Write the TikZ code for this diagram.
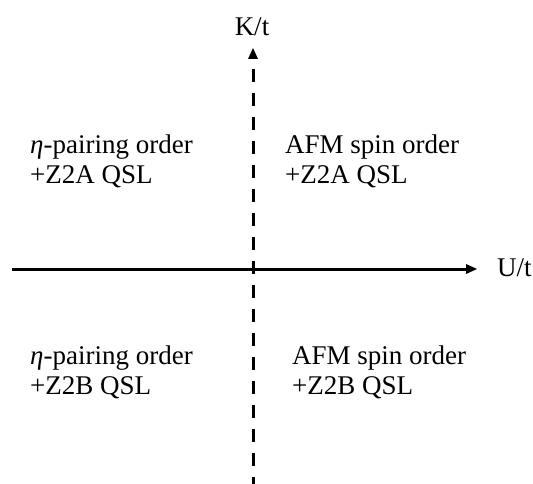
\documentclass[tikz,border=0pt]{standalone}
\usepackage{fontspec}
\setmainfont{Liberation Serif}
\usepackage{tikz}
\usetikzlibrary{arrows.meta}
\tikzset{
  faz/.style={anchor=base west,align=left,inner sep=0pt,
    font=\fontsize{27}{30}\selectfont},
  eksen/.style={line width=3pt},
  uc/.tip={Triangle[length=11pt,width=10pt,line width=0pt]}
}

\begin{document}
\begin{tikzpicture}[x=1pt,y=-1pt]
\useasboundingbox (0,0) rectangle (533,484);
% eksenler
\coordinate (usol) at (12,269);
\coordinate (usag) at (477,269);
\coordinate (kalt) at (253,484);
\coordinate (kust) at (253,48);
\draw[eksen,-{uc}] (usol)--(usag);
\draw[eksen,{uc}-,dash pattern=on 13pt off 11pt,dash phase=14pt] (kust)--(kalt);
\node[faz] (uEtiket) at (497,276) {U/t};
\node[faz,anchor=base] (kEtiket) at (252,36) {K/t};
% bolgeler (base = son satir)
\node[faz] (solUst) at (30,183) {\textit{η}-pairing order\\+Z2A QSL};
\node[faz] (sagUst) at (285,183) {AFM spin order\\+Z2A QSL};
\node[faz] (solAlt) at (30,394) {\textit{η}-pairing order\\+Z2B QSL};
\node[faz] (sagAlt) at (292,394) {AFM spin order\\+Z2B QSL};
\end{tikzpicture}
\end{document}
